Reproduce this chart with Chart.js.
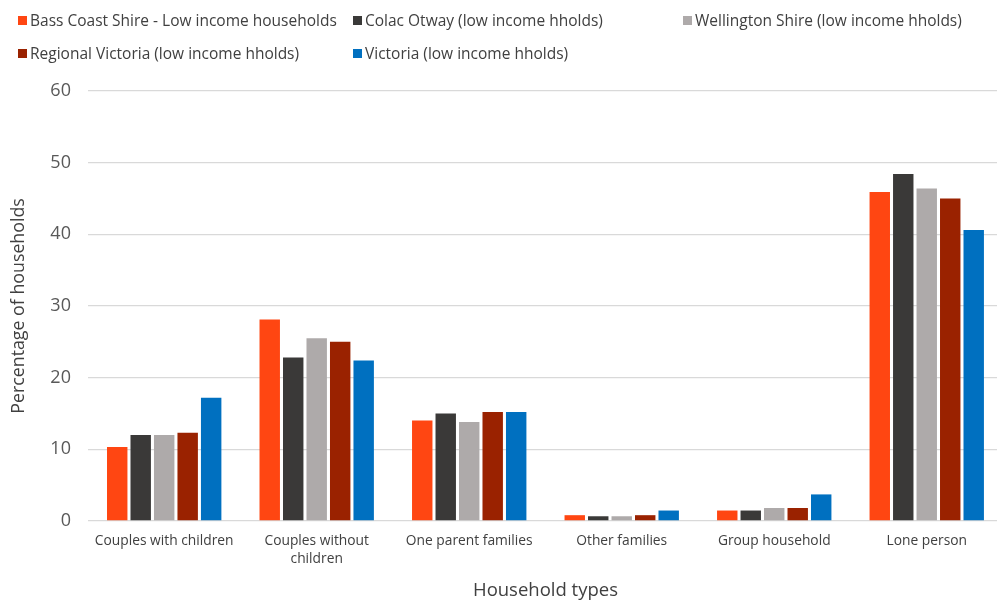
<!DOCTYPE html>
<html>
<head>
<meta charset="utf-8">
<script src="https://cdn.jsdelivr.net/npm/chart.js@4.4.1/dist/chart.umd.min.js"></script>
<style>
  html, body { margin: 0; padding: 0; background: #fff; overflow: hidden; }
  #wrap { position: relative; width: 997px; height: 602px; overflow: hidden; }
  #legend { position: absolute; left: 0; top: 0; width: 997px; height: 75px;
    font-family: "Open Sans", "Liberation Sans", Arial, sans-serif; font-size: 15.5px; color: #404040; }
  .li { position: absolute; display: flex; align-items: center; white-space: nowrap; }
  .sw { width: 9px; height: 9px; margin-right: 3px; }
</style>
</head>
<body>
<div id="wrap">
  <canvas id="c" width="1003" height="602"></canvas>
  <div id="legend"></div>
</div>
<script>
const categories = ['Couples with children', ['Couples without', 'children'], 'One parent families', 'Other families', 'Group household', 'Lone person'];
const seriesNames = ['Bass Coast Shire - Low income households', 'Colac Otway (low income hholds)', 'Wellington Shire (low income hholds)', 'Regional Victoria (low income hholds)', 'Victoria (low income hholds)'];
const bassCoast = [10.3, 28.1, 14.0, 0.8, 1.45, 45.9];
const colacOtway = [12.0, 22.8, 15.0, 0.65, 1.45, 48.4];
const wellington = [12.0, 25.5, 13.8, 0.65, 1.8, 46.4];
const regionalVic = [12.3, 25.0, 15.2, 0.8, 1.8, 45.0];
const victoria = [17.2, 22.4, 15.2, 1.45, 3.7, 40.6];
const colors = ['#FF4612', '#3A3938', '#AEAAAA', '#9A2200', '#0070C0'];
const yTicks = [0, 10, 20, 30, 40, 50, 60];

const values = [bassCoast, colacOtway, wellington, regionalVic, victoria];
const datasets = seriesNames.map((n, i) => ({
  label: n, data: values[i], backgroundColor: colors[i],
  borderWidth: 0,
  categoryPercentage: 0.77, barPercentage: 0.87
}));

const font = "'Open Sans', 'Liberation Sans', Arial, sans-serif";
new Chart(document.getElementById('c'), {
  type: 'bar',
  data: { labels: categories, datasets },
  options: {
    responsive: false, animation: false,
    layout: { padding: { top: 91, right: 0, bottom: 0, left: 4 } },
    plugins: { legend: { display: false }, tooltip: { enabled: false } },
    scales: {
      x: {
        grid: { display: false, drawTicks: false },
        border: { display: false },
        ticks: { color: '#404040', font: { family: font, size: 13.8, lineHeight: 1.3 }, padding: 11, maxRotation: 0, autoSkip: false },
        title: { display: true, text: 'Household types', color: '#404040', font: { family: font, size: 18.5 }, padding: { top: 1, bottom: 0 } }
      },
      y: {
        min: 0, max: 60,
        afterBuildTicks: s => { s.ticks = yTicks.map(v => ({ value: v })); },
        grid: { color: '#D9D9D9', lineWidth: 1.3, drawTicks: false },
        border: { display: false },
        ticks: { color: '#595959', font: { family: font, size: 18 }, padding: 17 },
        title: { display: true, text: 'Percentage of households', color: '#404040', font: { family: font, size: 17.8 }, padding: { bottom: 4 } }
      }
    }
  }
});

const pos = [[18, 20], [353, 20], [683, 20], [18, 53], [353, 53]];
const lg = document.getElementById('legend');
seriesNames.forEach((n, i) => {
  const d = document.createElement('div');
  d.className = 'li';
  d.style.left = pos[i][0] + 'px';
  d.style.top = (pos[i][1] - 11) + 'px';
  d.innerHTML = '<span class="sw" style="background:' + colors[i] + '"></span><span></span>';
  d.lastChild.textContent = n;
  lg.appendChild(d);
});
</script>
</body>
</html>
